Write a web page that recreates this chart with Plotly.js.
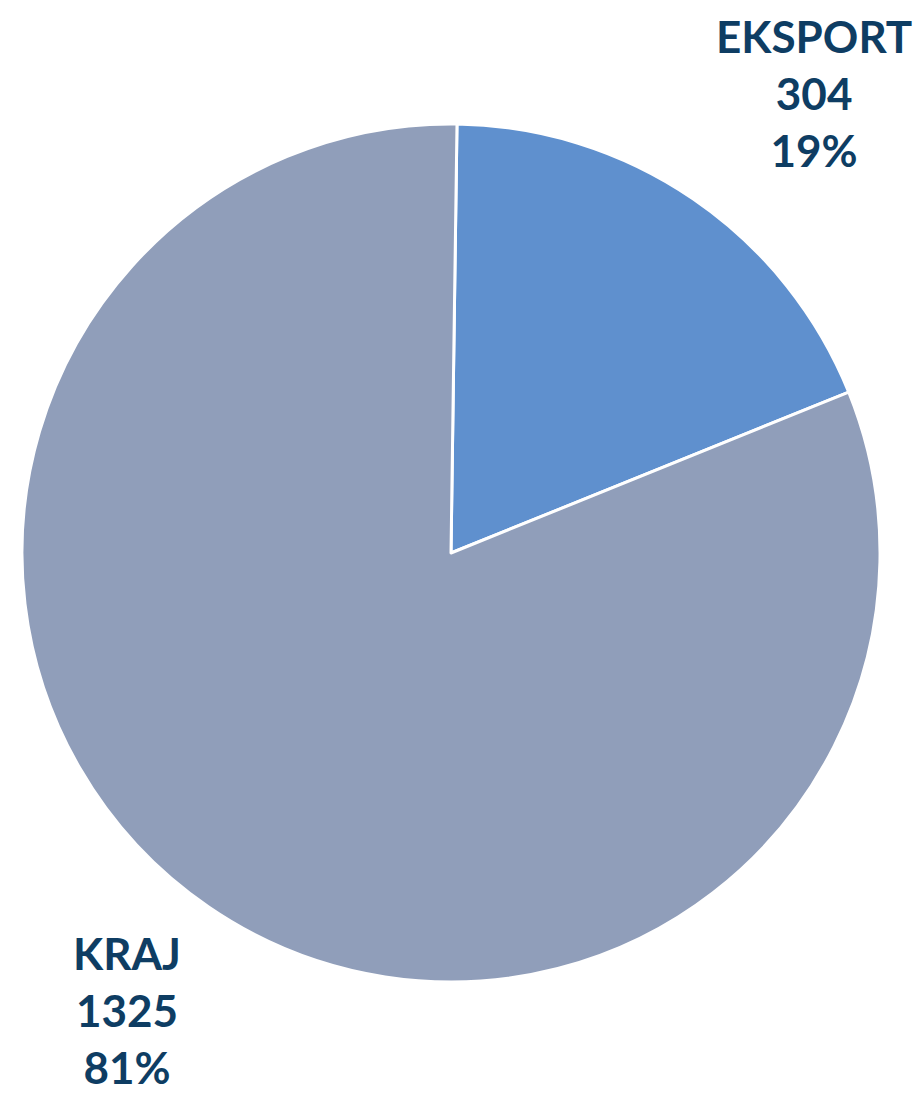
<!DOCTYPE html>
<html>
<head>
<meta charset="utf-8">
<script src="https://cdn.plot.ly/plotly-3.0.1.min.js"></script>
<style>html,body{margin:0;padding:0;background:#fff;}#chart{width:919px;height:1097px;}</style>
</head>
<body>
<div id="chart"></div>
<script>
const categories = ["EKSPORT", "KRAJ"];
const values = [304, 1325];
const sliceColors = ["#5F90CE", "#909EBA"];

const total = values.reduce((a, b) => a + b, 0);
const labelPos = [
  {x: 0.886, y: 0.915},
  {x: 0.138, y: 0.079}
];
const annotations = categories.map((c, i) => ({
  xref: "paper", yref: "paper",
  x: labelPos[i].x, y: labelPos[i].y,
  xanchor: "center", yanchor: "middle",
  showarrow: false,
  text: "<b>" + c + "<br>" + values[i] + "<br>" + Math.round(values[i] / total * 100) + "%</b>",
  font: {family: "Lato, 'DejaVu Sans', sans-serif", size: 44, color: "#0E3D63"}
}));

Plotly.newPlot("chart", [{
  type: "pie",
  labels: categories,
  values: values,
  sort: false,
  direction: "clockwise",
  rotation: 0.8,
  textinfo: "none",
  hoverinfo: "none",
  marker: {colors: sliceColors, line: {color: "#ffffff", width: 3}},
  domain: {x: [0.0239, 0.9576], y: [0.1048, 0.887]}
}], {
  width: 919, height: 1097,
  margin: {l: 0, r: 0, t: 0, b: 0},
  showlegend: false,
  paper_bgcolor: "#ffffff",
  annotations: annotations
}, {displayModeBar: false, staticPlot: true});
</script>
</body>
</html>
